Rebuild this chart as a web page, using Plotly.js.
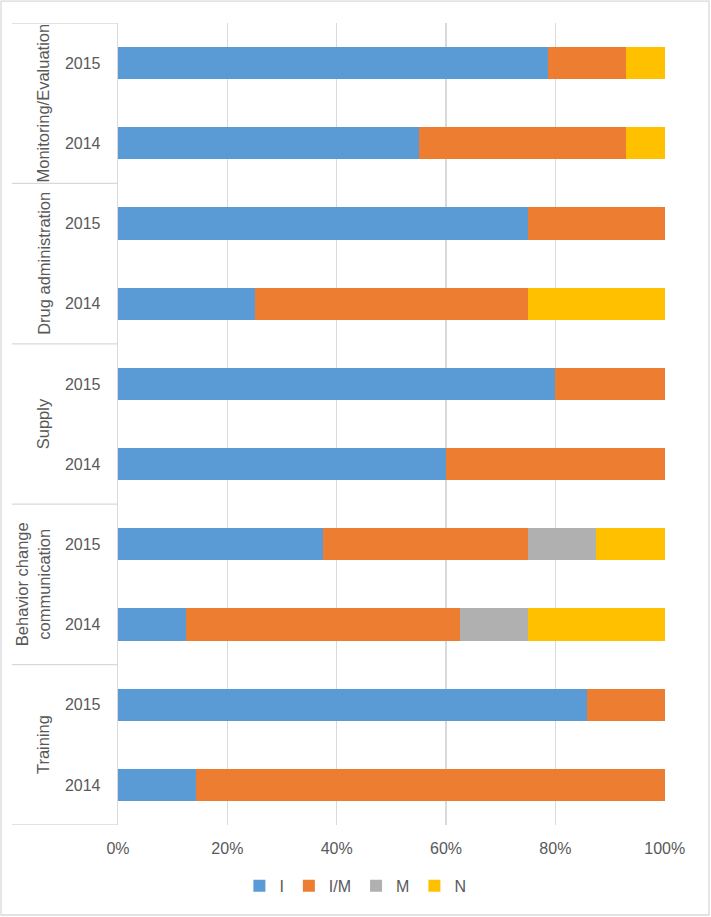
<!DOCTYPE html>
<html>
<head>
<meta charset="utf-8">
<script src="https://cdn.plot.ly/plotly-3.0.1.min.js"></script>
<style>
  html, body { margin: 0; padding: 0; background: #fff; }
  #chart { width: 711px; height: 917px; }
</style>
</head>
<body>
<div id="chart"></div>
<script>
// bottom to top, two years per group
const GROUPS = ['Training', 'Behavior change<br>communication', 'Supply',
  'Drug administration', 'Monitoring/Evaluation'];
const YEARS = ['2014', '2015'];

// share of responses (%) per row, same order as GROUPS x YEARS
const I_VALS  = [14.3, 85.7, 12.5, 37.5, 60, 80, 25, 75, 55, 78.6];
const IM_VALS = [85.7, 14.3, 50, 37.5, 40, 20, 50, 25, 38, 14.3];
const M_VALS  = [0, 0, 12.5, 12.5, 0, 0, 0, 0, 0, 0];
const N_VALS  = [0, 0, 25, 12.5, 0, 0, 25, 0, 7, 7.1];

const SERIES = [
  {name: 'I', vals: I_VALS, color: '#5B9BD5'},
  {name: 'I/M', vals: IM_VALS, color: '#ED7D31'},
  {name: 'M', vals: M_VALS, color: '#B0B0B0'},
  {name: 'N', vals: N_VALS, color: '#FFC000'},
];

const FONT = {family: 'Liberation Sans, Arial, sans-serif', size: 16, color: '#595959'};
const LINE = '#d9d9d9';

const rows = [];
const rowText = [];
GROUPS.forEach((g, gi) => YEARS.forEach((y, yi) => {
  rows.push(gi * YEARS.length + yi);
  rowText.push(y);
}));

const traces = SERIES.map(s => ({
  type: 'bar',
  orientation: 'h',
  name: s.name,
  x: s.vals,
  y: rows,
  marker: {color: s.color, line: {width: 0}},
  hoverinfo: 'none',
}));

// group labels and divider lines on the left of the year labels
const annotations = GROUPS.map((g, gi) => ({
  text: g,
  xref: 'paper', yref: 'y',
  x: -0.1165, y: gi * YEARS.length + (YEARS.length - 1) / 2,
  xanchor: 'right', yanchor: 'middle',
  textangle: -90,
  showarrow: false,
  font: {family: FONT.family, size: 16.5, color: FONT.color},
}));

const shapes = [];
for (let i = 0; i <= GROUPS.length; i++) {
  const yv = i * YEARS.length - 0.5;
  shapes.push({type: 'line', xref: 'paper', yref: 'y',
    x0: -0.194, x1: 0, y0: yv, y1: yv, line: {color: LINE, width: 1.3}});
}
// chart frame
shapes.push({type: 'rect', xref: 'paper', yref: 'paper',
  x0: -0.2139, x1: 1.0804, y0: -0.1122, y1: 1.0274,
  line: {color: LINE, width: 1.3}});

const layout = {
  width: 711,
  height: 917,
  barmode: 'stack',
  bargap: 0.6,
  showlegend: true,
  legend: {
    orientation: 'h',
    x: 0.434, xanchor: 'center',
    y: -0.076, yanchor: 'middle',
    font: FONT,
    traceorder: 'normal',
  },
  xaxis: {
    range: [0, 100.05],
    dtick: 20,
    ticksuffix: '%',
    showgrid: true,
    gridcolor: LINE,
    gridwidth: 1.3,
    zeroline: false,
    ticks: 'outside',
    ticklen: 9,
    tickcolor: 'rgba(0,0,0,0)',
    tickfont: FONT,
    fixedrange: true,
  },
  yaxis: {
    range: [-0.5, rows.length - 0.5],
    tickvals: rows,
    ticktext: rowText,
    showgrid: false,
    zeroline: false,
    showline: true,
    linecolor: LINE,
    linewidth: 1.3,
    ticks: 'outside',
    ticklen: 13,
    tickcolor: 'rgba(0,0,0,0)',
    tickfont: FONT,
    fixedrange: true,
  },
  annotations: annotations,
  shapes: shapes,
  margin: {l: 118, r: 46, t: 23, b: 92},
  paper_bgcolor: '#fff',
  plot_bgcolor: '#fff',
  hovermode: false,
};

Plotly.newPlot('chart', traces, layout, {displayModeBar: false, staticPlot: true});
</script>
</body>
</html>
